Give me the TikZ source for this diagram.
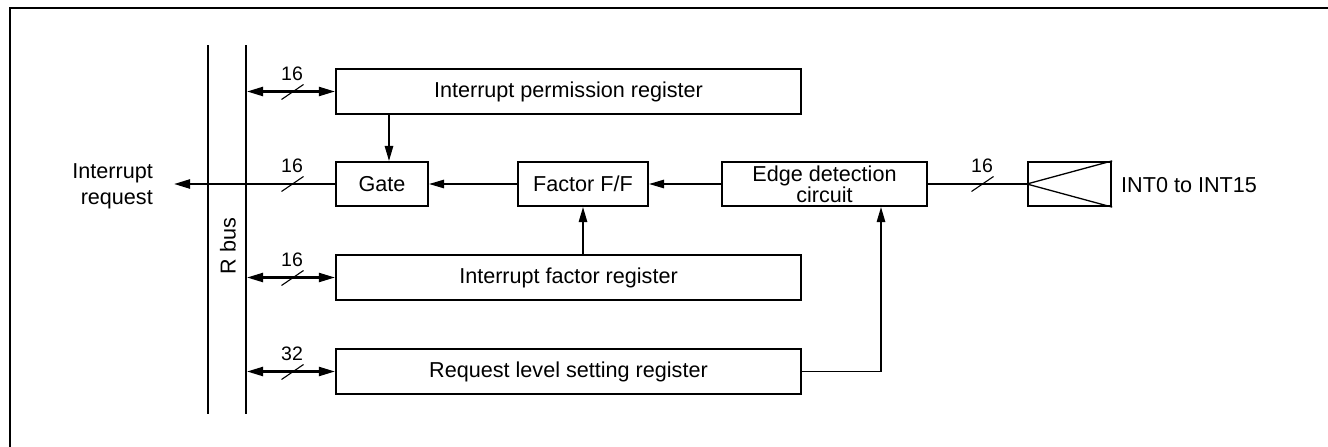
\documentclass[tikz,border=0pt]{standalone}
\usepackage{fontspec}
\setmainfont{Liberation Sans}
\usetikzlibrary{arrows.meta}
\begin{document}
\begin{tikzpicture}[x=1pt,y=-1pt,
  box/.style={draw, line width=2.2pt, inner sep=0pt, font=\fontsize{21.6}{18}\selectfont, align=center},
  thickarr/.style={line width=2.2pt, -{Triangle[length=16pt,width=9pt]}},
  dblarr/.style={line width=2.2pt, {Triangle[length=16pt,width=9pt]}-{Triangle[length=16pt,width=9pt]}},
  thinarr/.style={line width=1.3pt, -{Triangle[length=15pt,width=8.5pt]}},
  busline/.style={line width=2.2pt},
  slashmark/.style={line width=1.1pt},
  buslbl/.style={font=\fontsize{19.5}{20}\selectfont, inner sep=0pt},
  txt/.style={font=\fontsize{21.6}{26}\selectfont, inner sep=0pt}
]
\useasboundingbox (0,0) rectangle (1328,447);
% frame
\draw[line width=2.2pt] (10,447) -- (10,8) -- (1328,8);

% bus
\coordinate (bLt) at (208,45); \coordinate (bLb) at (208,414);
\coordinate (bRt) at (246,45); \coordinate (bRb) at (246,414);
\draw[busline] (bLt) -- (bLb);
\draw[busline] (bRt) -- (bRb);
\node[txt, rotate=90] (rbus) at (228,246) {R bus};
\coordinate (bx) at (247,0);

% boxes
\node[box, minimum width=465pt, minimum height=45pt] (perm) at (568.5,91.5) {Interrupt permission register};
\node[box, minimum width=92pt, minimum height=44pt] (gate) at (382,184) {Gate};
\node[box, minimum width=130pt, minimum height=44pt] (ff) at (583,184) {Factor F/F};
\node[box, minimum width=205pt, minimum height=44pt] (edge) at (824.5,184) {Edge detection\\circuit};
\node[box, minimum width=83pt, minimum height=44pt] (inp) at (1069.5,184) {};
\node[box, minimum width=465pt, minimum height=45pt] (fact) at (568.5,277.5) {Interrupt factor register};
\node[box, minimum width=465pt, minimum height=45pt] (req) at (568.5,371.5) {Request level setting register};

% input symbol
\draw[line width=1.3pt] (inp.north east) -- (inp.west) -- (inp.south east);
\node[txt, anchor=west] (intlbl) at (1121,185) {INT0 to INT15};

% bus double arrows
\draw[dblarr] (perm.west -| bx) -- (perm.west);
\draw[dblarr] (fact.west -| bx) -- (fact.west);
\draw[dblarr] (req.west -| bx) -- (req.west);

% slashes and widths
\foreach \yy/\lab/\nm in {92/16/a, 184/16/b, 278/16/c, 372/32/d}{
  \draw[slashmark] (281.5,\yy+7.5) -- (303.5,\yy-7.5);
  \node[buslbl] (w\nm) at (292,\yy-18) {\lab};
}
\draw[slashmark] (971.5,191.5) -- (993.5,176.5);
\node[buslbl] (we) at (982,166) {16};

% interrupt request
\coordinate (irq) at (174,184);
\draw[thickarr] (gate.west) -- (irq);
\node[txt, anchor=east, align=right] (irqlbl) at (153,186) {Interrupt\\request};

% internal connections
\coordinate (pg) at (389,0);
\draw[thinarr] (perm.south -| pg) -- (gate.north -| pg);
\draw[thinarr] (ff.west) -- (gate.east);
\draw[thinarr] (edge.west) -- (ff.east);
\draw[thinarr] (fact.north -| ff.south) -- (ff.south);
\draw[line width=2.2pt] (edge.east) -- (inp.west);
\coordinate (rc) at (881,371.5);
\draw[thinarr] (req.east) -- (rc) -- (rc |- edge.south);
\end{tikzpicture}
\end{document}
